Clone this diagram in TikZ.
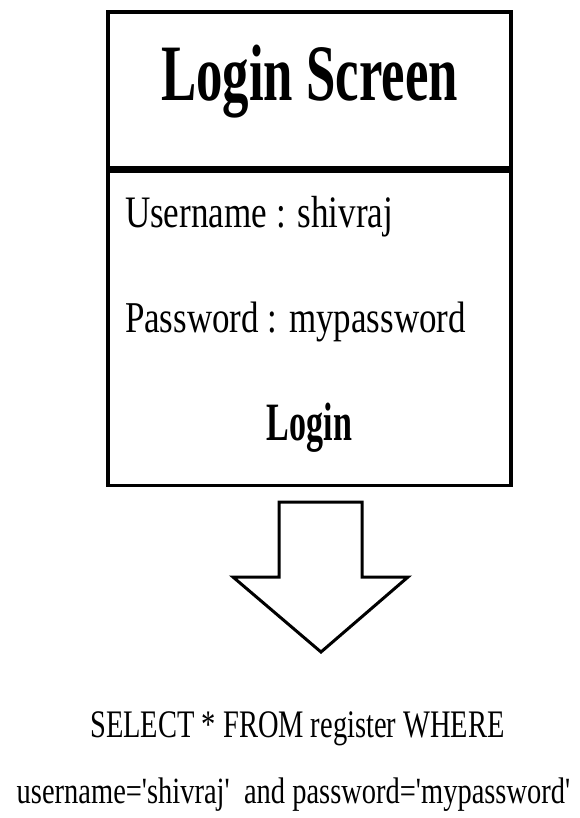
\documentclass[tikz,border=0pt]{standalone}
\usepackage{fontspec}
\setmainfont{Liberation Serif}
\usepackage{graphicx}
\begin{document}
\begin{tikzpicture}[x=1pt,y=-1pt,
  frame/.style={draw=black, line width=3.5pt, inner sep=0pt},
  txt/.style={inner sep=0pt, outer sep=0pt},
  arrowshape/.style={draw=black, line width=3pt, line join=miter, fill=white}]
\useasboundingbox[fill=white] (0,0) rectangle (580,818);
% title compartment and body compartment
\node[frame, minimum width=403pt, minimum height=156pt] (head) at (309.5,90) {};
\node[frame, minimum width=403pt, minimum height=314pt, anchor=north] (body) at (head.south) {};
% texts
\node[txt, anchor=base] (title) at (309.5,101)
  {\fontsize{80}{80}\selectfont\bfseries\scalebox{0.66}[1]{Login Screen}};
\node[txt, anchor=base west] (user) at (125,228)
  {\fontsize{45}{45}\selectfont\scalebox{0.78}[1]{Username : shivraj}};
\node[txt, anchor=base west] (pass) at (125,332)
  {\fontsize{44}{44}\selectfont\scalebox{0.795}[1]{Password : mypassword}};
\node[txt, anchor=base] (login) at (309.5,440)
  {\fontsize{54}{54}\selectfont\bfseries\scalebox{0.63}[1]{Login}};
% big down arrow
\draw[arrowshape] (279,502) coordinate (a1) -- (362,502) -- (362,577) -- (408,577)
  -- (321,652) coordinate (tip) -- (233,577) -- (279,577) -- cycle;
% SQL text
\node[txt, anchor=base] (sql1) at (297.5,737)
  {\fontsize{39}{39}\selectfont\scalebox{0.73}[1]{SELECT * FROM register WHERE}};
\node[txt, anchor=base] (sql2) at (293.5,803)
  {\fontsize{37}{37}\selectfont\scalebox{0.77}[1]{username=\textquotesingle shivraj\textquotesingle\ \ and password=\textquotesingle mypassword\textquotesingle}};
\end{tikzpicture}
\end{document}
